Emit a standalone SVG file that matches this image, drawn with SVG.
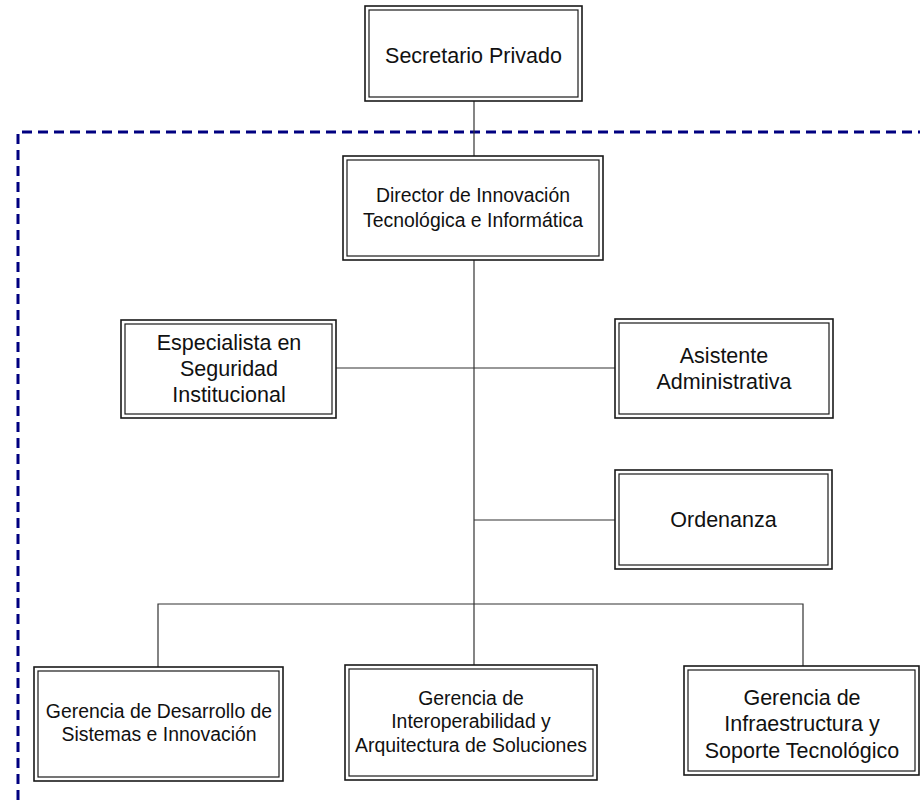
<svg xmlns="http://www.w3.org/2000/svg" width="920" height="800" viewBox="0 0 920 800">
  <style>
    .outer { fill: #ffffff; stroke: #1a1a1a; stroke-width: 1.6; }
    .inner { fill: none; stroke: #1a1a1a; stroke-width: 1.2; }
    .lbl { font-family: "Liberation Sans", Arial, sans-serif; fill: #111111; text-anchor: middle; }
    .lg { font-size: 21.5px; }
    .sm { font-size: 19.4px; }
    .link { fill: none; stroke: #333333; stroke-width: 1.2; }
    .frame { fill: none; stroke: #000080; stroke-width: 3; stroke-dasharray: 10 6; }
  </style>

  <!-- dashed boundary of the directorate -->
  <path class="frame" d="M18,800 V132 H920"/>

  <!-- connectors -->
  <g id="connectors">
    <line class="link" x1="474" y1="101" x2="474" y2="156"/>
    <line class="link" x1="474" y1="260" x2="474" y2="665"/>
    <line class="link" x1="336" y1="368" x2="615" y2="368"/>
    <line class="link" x1="474" y1="520" x2="615" y2="520"/>
    <polyline class="link" points="158,667 158,604 803,604 803,666"/>
  </g>

  <g id="secretario-privado">
    <rect class="outer" x="365" y="6" width="217" height="95"/>
    <rect class="inner" x="369" y="10" width="209" height="87"/>
    <text class="lbl lg" x="473.5" y="63">Secretario Privado</text>
  </g>

  <g id="director">
    <rect class="outer" x="343" y="156" width="260" height="104"/>
    <rect class="inner" x="347" y="160" width="252" height="96"/>
    <text class="lbl sm" x="473" y="202">Director de Innovación</text>
    <text class="lbl sm" x="473" y="227">Tecnológica e Informática</text>
  </g>

  <g id="especialista-seguridad">
    <rect class="outer" x="121" y="320" width="215" height="98"/>
    <rect class="inner" x="125" y="324" width="207" height="90"/>
    <text class="lbl lg" x="229" y="350">Especialista en</text>
    <text class="lbl lg" x="229" y="376">Seguridad</text>
    <text class="lbl lg" x="229" y="402">Institucional</text>
  </g>

  <g id="asistente-administrativa">
    <rect class="outer" x="615" y="319" width="218" height="99"/>
    <rect class="inner" x="619" y="323" width="210" height="91"/>
    <text class="lbl lg" x="724" y="363">Asistente</text>
    <text class="lbl lg" x="724" y="389">Administrativa</text>
  </g>

  <g id="ordenanza">
    <rect class="outer" x="615" y="470" width="217" height="99"/>
    <rect class="inner" x="619" y="474" width="209" height="91"/>
    <text class="lbl lg" x="723.5" y="527">Ordenanza</text>
  </g>

  <g id="gerencia-desarrollo">
    <rect class="outer" x="34" y="667" width="249" height="114"/>
    <rect class="inner" x="38" y="671" width="241" height="106"/>
    <text class="lbl sm" x="159" y="718">Gerencia de Desarrollo de</text>
    <text class="lbl sm" x="159" y="741">Sistemas e Innovación</text>
  </g>

  <g id="gerencia-interoperabilidad">
    <rect class="outer" x="345" y="665" width="252" height="115"/>
    <rect class="inner" x="349" y="669" width="244" height="107"/>
    <text class="lbl sm" x="471" y="705">Gerencia de</text>
    <text class="lbl sm" x="471" y="728">Interoperabilidad y</text>
    <text class="lbl sm" x="471" y="752">Arquitectura de Soluciones</text>
  </g>

  <g id="gerencia-infraestructura">
    <rect class="outer" x="684" y="666" width="235" height="109"/>
    <rect class="inner" x="688" y="670" width="227" height="101"/>
    <text class="lbl lg" x="802" y="705">Gerencia de</text>
    <text class="lbl lg" x="802" y="731">Infraestructura y</text>
    <text class="lbl lg" x="802" y="758">Soporte Tecnológico</text>
  </g>
</svg>
